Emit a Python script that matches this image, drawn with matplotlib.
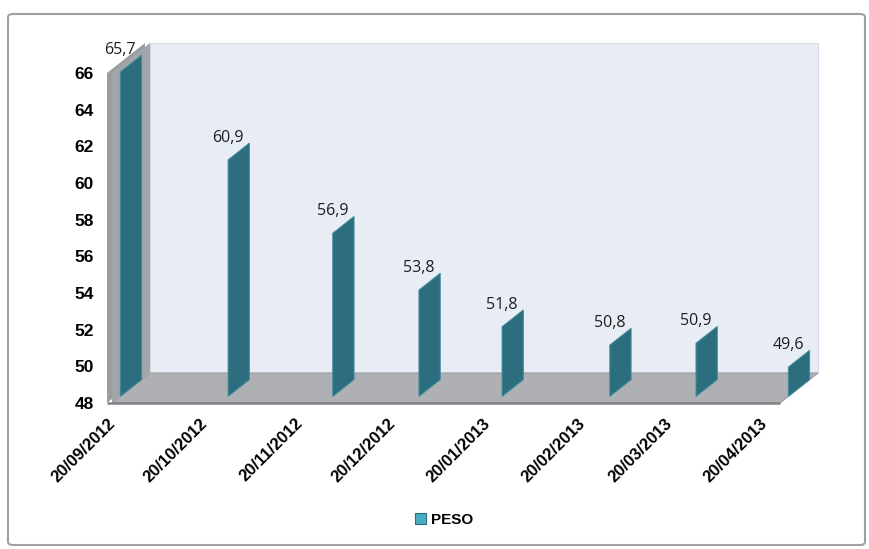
import numpy as np
import matplotlib
matplotlib.use("Agg")
import matplotlib.pyplot as plt
import matplotlib.transforms as mtransforms
from matplotlib.patches import Polygon, Patch, FancyBboxPatch

# Weighing dates and recorded weight (kg)
dates = np.array(["2012-09-20", "2012-10-25", "2012-11-28", "2012-12-26",
                  "2013-01-22", "2013-02-26", "2013-03-26", "2013-04-25"],
                 dtype="datetime64[D]")
peso = [65.7, 60.9, 56.9, 53.8, 51.8, 50.8, 50.9, 49.6]
series_name = "PESO"

# Monthly date-axis ticks
tick_dates = np.array(["2012-09-20", "2012-10-20", "2012-11-20", "2012-12-20",
                       "2013-01-20", "2013-02-20", "2013-03-20", "2013-04-20"],
                      dtype="datetime64[D]")
tick_labels = ["20/09/2012", "20/10/2012", "20/11/2012", "20/12/2012",
               "20/01/2013", "20/02/2013", "20/03/2013", "20/04/2013"]
y_ticks = [48, 50, 52, 54, 56, 58, 60, 62, 64, 66]

# 3-D look
Y_MIN, Y_MAX = 48, 66
DEPTH_X_FRAC = 38 / 668          # depth shift as a fraction of the date span
DEPTH_Y = 30 * 18 / 330          # depth shift in value units
BAR_D0, BAR_D1 = 0.22, 0.78      # bar extent along the depth axis
WALL_T_FRAC = 5 / 668            # side wall thickness as a fraction of the span

BAR_COLOR = "#2C6E7D"
BAR_EDGE = "#3E8C9D"
WALL_COLOR = "#E8EDF5"
SIDE_COLOR = "#A2A5A9"
FLOOR_COLOR = "#AEB0B3"

days = (dates - dates[0]).astype(int)
tick_days = (tick_dates - dates[0]).astype(int)
span = days[-1] - days[0]
DX = DEPTH_X_FRAC * span
WT = WALL_T_FRAC * span


def proj(x, v, d):
    return (x + d * DX, v + d * DEPTH_Y)


plt.rcParams["font.family"] = ["Liberation Sans", "DejaVu Sans"]

fig = plt.figure(figsize=(8.69, 5.49), dpi=100, facecolor="white")
ax = fig.add_axes([112 / 869, 146 / 549, 706 / 869, 360 / 549])
ax.set_xlim(0, span + DX)
ax.set_ylim(Y_MIN, Y_MAX + DEPTH_Y)
ax.patch.set_visible(False)
for s in ax.spines.values():
    s.set_visible(False)

# Walls and floor
back = [proj(0, Y_MIN, 1), proj(span, Y_MIN, 1), proj(span, Y_MAX, 1), proj(0, Y_MAX, 1)]
side = [proj(0, Y_MIN, 0), proj(0, Y_MIN, 1), proj(0, Y_MAX, 1), proj(0, Y_MAX, 0)]
side_outer = [(x - WT, y) for x, y in side]
floor = [proj(0, Y_MIN, 0), proj(span, Y_MIN, 0), proj(span, Y_MIN, 1), proj(0, Y_MIN, 1)]
ax.add_patch(Polygon(back, closed=True, facecolor=WALL_COLOR, edgecolor="#D5DCE6",
                     lw=0.8, zorder=1, clip_on=False))
ax.add_patch(Polygon(side_outer, closed=True, facecolor="#9A9DA1", edgecolor="none",
                     zorder=1.15, clip_on=False))
ax.add_patch(Polygon(side, closed=True, facecolor=SIDE_COLOR, edgecolor="none",
                     zorder=1.2, clip_on=False))
ax.add_patch(Polygon(floor, closed=True, facecolor=FLOOR_COLOR, edgecolor="#9A9CA0",
                     lw=0.8, zorder=1.1, clip_on=False))
ax.plot([-WT, span], [Y_MIN, Y_MIN], color="#7F8285", lw=1.8, zorder=1.3,
        solid_capstyle="butt", clip_on=False)

# Bars (thin 3-D columns) with value labels
for x, v in zip(days, peso):
    poly = [proj(x, Y_MIN, BAR_D0), proj(x, Y_MIN, BAR_D1),
            proj(x, v, BAR_D1), proj(x, v, BAR_D0)]
    ax.add_patch(Polygon(poly, closed=True, facecolor=BAR_COLOR, edgecolor=BAR_EDGE,
                         lw=0.7, zorder=2, clip_on=False))
    ax.annotate(f"{v:.1f}".replace(".", ","), xy=proj(x, v, BAR_D0),
                xytext=(0, 14), textcoords="offset pixels",
                ha="center", va="bottom", fontsize=11.5, color="#1E1E1E",
                family=["Open Sans", "DejaVu Sans"], zorder=3)

ax.set_yticks(y_ticks)
ax.set_yticklabels([str(t) for t in y_ticks], fontsize=12.5, fontweight="bold")
ax.set_xticks(tick_days)
ax.set_xticklabels(tick_labels, fontsize=12, fontweight="bold",
                   rotation=45, ha="right", va="top", rotation_mode="anchor")
ax.tick_params(axis="y", length=0, pad=13)
ax.tick_params(axis="x", length=0, pad=9)
shift = mtransforms.ScaledTranslation(-5 / 100, 0, fig.dpi_scale_trans)
for lbl in ax.get_xticklabels():
    lbl.set_transform(lbl.get_transform() + shift)

# Legend
fig.legend(handles=[Patch(facecolor="#4BACC6", edgecolor="#2C6E7D", lw=0.8,
                          label=series_name)],
           loc="center", bbox_to_anchor=(444 / 869, 1 - 520 / 549), frameon=False,
           prop={"weight": "bold", "size": 11}, handlelength=0.75, handleheight=0.75,
           handletextpad=0.3)

# Chart area border
fig.add_artist(FancyBboxPatch((8 / 869, 4 / 549), 857 / 869, 531 / 549,
                              boxstyle="round,pad=0,rounding_size=0.006",
                              transform=fig.transFigure, facecolor="none",
                              edgecolor="#A0A0A0", lw=1.5))

fig.savefig("out.png", dpi=100, facecolor="white")
